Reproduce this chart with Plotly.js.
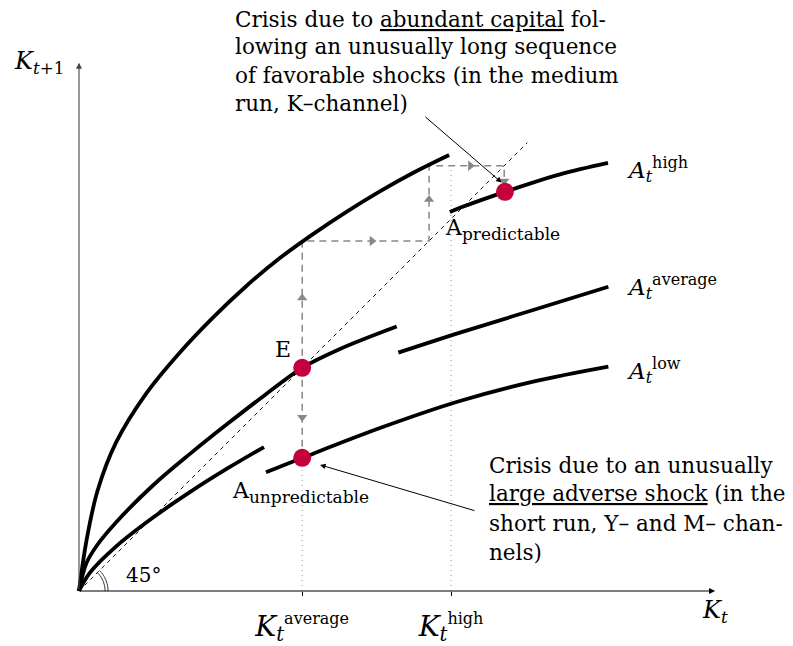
<!DOCTYPE html>
<html>
<head>
<meta charset="utf-8">
<script src="https://cdn.plot.ly/plotly-3.0.1.min.js"></script>
<style>html,body{margin:0;padding:0;background:#fff;}#chart{width:793px;height:646px;}</style>
</head>
<body>
<div id="chart"></div>
<script>
// ---------- data (diagram units: capital K_t on x, K_{t+1} on y) ----------
const kAverage = 6;
const kHigh = 10;
const tickVals = [kAverage, kHigh];
const tickText = [
  '<i>K</i><sub><i>t</i></sub><sup><span style="font-size:16px">average</span></sup>',
  '<i>K</i><sub><i>t</i></sub><sup><span style="font-size:16px">high</span></sup>'
];

// A_t^high, before the crisis (left) and after (right)
const highLeftX  = [0, 0.2, 0.5, 1, 1.8, 2.7, 3.6, 4.5, 5.4, 6.3, 7.2, 8.1, 9.0, 9.95];
const highLeftY  = [0, 1.35, 2.7, 4.0, 5.3, 6.4, 7.35, 8.2, 8.95, 9.6, 10.2, 10.75, 11.25, 11.72];
const highRightX = [9.97, 10.24, 11.45, 12.93, 14.22];
const highRightY = [10.19, 10.30, 10.73, 11.20, 11.51];
// A_t^average
const avgLeftX  = [0, 0.2, 0.5, 1, 2, 3, 4, 5, 6, 7, 8.54];
const avgLeftY  = [0, 0.75, 1.25, 1.85, 2.85, 3.7, 4.5, 5.27, 6.0, 6.5, 7.11];
const avgRightX = [8.584, 10.24, 12.21, 14.23];
const avgRightY = [6.407, 6.944, 7.554, 8.18];
// A_t^low
const lowLeftX  = [0, 0.3, 1, 2, 3, 4, 4.973];
const lowLeftY  = [0, 0.5, 1.2, 1.98, 2.67, 3.3, 3.87];
const lowRightX = [5.027, 5.995, 8.09, 10.215, 12.21, 14.23];
const lowRightY = [3.19, 3.575, 4.38, 5.10, 5.627, 6.03];

// 45 degree line
const diagX = [0, 12.05];
const diagY = [0, 12.05];

// highlighted points: E, A_unpredictable, A_predictable
const pointX = [6, 6, 11.45];
const pointY = [6, 3.58, 10.73];

// cobweb path (favourable shocks) and the adverse-shock drop
const cobX = [6, 6, 9.41, 9.41, 11.43, 11.43];
const cobY = [6, 9.41, 9.41, 11.43, 11.43, 11.02];
const dropX = [6, 6];
const dropY = [6, 3.58];

// dotted guide lines
const guideAvgY = [0, 3.58];
const guideHighY = [0, 11.45];

// curve labels
const curveLabels = [
  '<i>A</i><sub><i>t</i></sub><sup><span style="font-size:16px">high</span></sup>',
  '<i>A</i><sub><i>t</i></sub><sup><span style="font-size:16px">average</span></sup>',
  '<i>A</i><sub><i>t</i></sub><sup><span style="font-size:16px">low</span></sup>'
];
const curveLabelY = [11.34, 8.18, 5.94];

const topNote = [
  'Crisis due to <span style="text-decoration:underline">abundant capital</span> fol-',
  'lowing an unusually long sequence',
  'of favorable shocks (in the medium',
  'run, K\u2013channel)'
];
const bottomNote = [
  'Crisis due to an unusually',
  '<span style="text-decoration:underline">large adverse shock</span> (in the',
  'short run, Y\u2013 and M\u2013 chan-',
  'nels)'
];

// ---------- drawing ----------
const PX = 37.2;            // pixels per unit
const W = 793, H = 646, OX = 79, OY = 591;
const xRange = [-OX / PX, (W - OX) / PX];
const yRange = [-(H - OY) / PX, OY / PX];
const FONT = 'DejaVu Serif';
const GRAY = '#888888';
const CRIMSON = '#c4003d';

const traces = [];
function line(x, y, style) {
  traces.push({type: 'scatter', mode: 'lines', x: x, y: y, hoverinfo: 'skip', showlegend: false, line: style});
}
line(diagX, diagY, {color: '#000', width: 0.9, dash: '4px,4px'});
line([kAverage, kAverage], guideAvgY, {color: '#999', width: 1, dash: '1px,4px'});
line([kHigh, kHigh], guideHighY, {color: '#999', width: 1, dash: '1px,4px'});
line(cobX, cobY, {color: GRAY, width: 1.5, dash: '7px,5px'});
line(dropX, dropY, {color: GRAY, width: 1.5, dash: '7px,5px'});

// arrow heads on the cobweb segments
const arrX = [], arrY = [], arrS = [];
function addArrow(x0, y0, x1, y1, atEnd) {
  const f = atEnd ? 1 : 0.55;
  arrX.push(x0 + (x1 - x0) * f);
  arrY.push(y0 + (y1 - y0) * f);
  if (Math.abs(x1 - x0) > Math.abs(y1 - y0)) arrS.push(x1 > x0 ? 'triangle-right' : 'triangle-left');
  else arrS.push(y1 > y0 ? 'triangle-up' : 'triangle-down');
}
for (let i = 0; i < cobX.length - 1; i++) {
  addArrow(cobX[i], cobY[i], cobX[i + 1], cobY[i + 1], i === cobX.length - 2);
}
addArrow(dropX[0], dropY[0], dropX[1], dropY[1], false);
traces.push({type: 'scatter', mode: 'markers', x: arrX, y: arrY, hoverinfo: 'skip', showlegend: false,
  marker: {symbol: arrS, size: 9, color: GRAY, line: {width: 0}}});

const curveStyle = {color: '#000', width: 3.8, shape: 'spline', smoothing: 1};
[[highLeftX, highLeftY], [highRightX, highRightY], [avgLeftX, avgLeftY], [avgRightX, avgRightY],
 [lowLeftX, lowLeftY], [lowRightX, lowRightY]].forEach(c => line(c[0], c[1], curveStyle));

traces.push({type: 'scatter', mode: 'markers', x: pointX, y: pointY, hoverinfo: 'skip', showlegend: false,
  marker: {size: 18, color: CRIMSON, line: {width: 0}}});

// angle marker (double arc)
function arcPath(r) {
  let p = '';
  for (let a = 0; a <= 45; a += 3) {
    const t = a * Math.PI / 180;
    p += (a === 0 ? 'M' : 'L') + (r * Math.cos(t)).toFixed(4) + ',' + (r * Math.sin(t)).toFixed(4);
  }
  return p;
}
const shapes = [0.70, 0.78].map(r => ({type: 'path', xref: 'x', yref: 'y', path: arcPath(r),
  line: {color: '#000', width: 0.8}}));

const ann = [];
function text(x, y, t, size, opts) {
  ann.push(Object.assign({x: x, y: y, xref: 'x', yref: 'y', text: t, showarrow: false,
    xanchor: 'left', yanchor: 'middle', font: {family: FONT, size: size, color: '#000'}}, opts || {}));
}
function arrow(x0, y0, x1, y1, color, width) {
  ann.push({x: x1, y: y1, ax: x0, ay: y0, xref: 'x', yref: 'y', axref: 'x', ayref: 'y', text: '',
    showarrow: true, arrowhead: 2, arrowsize: 1.1, arrowwidth: width, arrowcolor: color, standoff: 0, startstandoff: 0});
}
// axes
arrow(0, 0, 17.1, 0, '#000', 1.1);
arrow(0, 0, 0, 14.2, '#444', 1.1);
text(-1.80, 14.22, '<i>K</i><sub><i>t</i>+1</sub>', 24);
text(16.69, -0.54, '<i>K</i><sub><i>t</i></sub>', 24);
text(1.2, 0.43, '45\u00b0', 20);
// point labels
text(5.48, 6.5, 'E', 22, {xanchor: 'center'});
text(9.785, 9.72, 'A<sub><span style="font-size:17px">predictable</span></sub>', 22);
text(4.059, 2.66, 'A<sub><span style="font-size:17px">unpredictable</span></sub>', 22);
curveLabels.forEach((t, i) => text(14.68, curveLabelY[i], t, 23));
// notes
const topNoteY = [15.376, 14.624, 13.871, 13.118];
topNote.forEach((t, i) => text(4.14, topNoteY[i], t, 21.5));
const bottomNoteY = [3.387, 2.608, 1.828, 1.048];
bottomNote.forEach((t, i) => text(10.97, bottomNoteY[i], t, 21.5));
arrow(9.27, 12.78, 11.36, 10.98, '#000', 1);
arrow(10.67, 2.15, 6.48, 3.39, '#000', 1);

const layout = {
  width: W, height: H,
  margin: {l: 0, r: 0, t: 0, b: 0, pad: 0},
  paper_bgcolor: '#fff', plot_bgcolor: '#fff',
  font: {family: FONT, color: '#000'},
  showlegend: false,
  xaxis: {range: xRange, domain: [0, 1], anchor: 'free', position: (H - OY) / H,
    showgrid: false, zeroline: false, showline: false,
    tickmode: 'array', tickvals: tickVals, ticktext: tickText,
    ticks: 'outside', ticklen: 4, tickwidth: 1, tickcolor: '#000', ticklabelstandoff: 6,
    tickfont: {family: FONT, size: 28, color: '#000'}, fixedrange: true},
  yaxis: {range: yRange, domain: [0, 1], visible: false, fixedrange: true},
  shapes: shapes,
  annotations: ann
};
Plotly.newPlot('chart', traces, layout, {staticPlot: true, displayModeBar: false});
</script>
</body>
</html>
